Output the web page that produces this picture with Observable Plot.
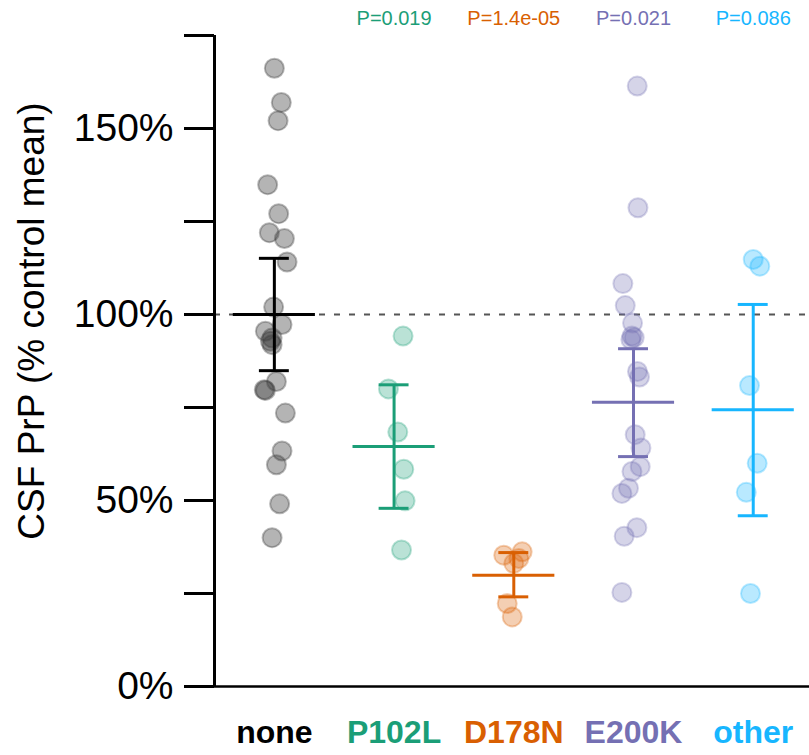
<!DOCTYPE html>
<html><head><meta charset="utf-8">
<script src="https://cdn.jsdelivr.net/npm/d3@7"></script>
<script src="https://cdn.jsdelivr.net/npm/@observablehq/plot@0.6"></script>
<style>html,body{margin:0;padding:0;background:#fff} svg{display:block}</style>
</head><body><div id="chart"></div>
<script>
// ---- data ----
const categories = ["none", "P102L", "D178N", "E200K", "other"];
const labelColors = ["#000000", "#1b9e77", "#d95f02", "#7570b3", "#17b6ff"];
const pointColors = ["#3a3a3a", "#1b9e77", "#d95f02", "#7570b3", "#17b6ff"];
const pValues = ["", "P=0.019", "P=1.4e-05", "P=0.021", "P=0.086"];

const noneValues  = [166.2, 157.0, 152.1, 134.9, 127.1, 122.0, 120.4, 114.1, 102.0, 97.3, 95.5, 93.7, 91.9, 92.8, 82.0, 79.8, 79.6, 73.5, 63.3, 59.6, 49.1, 40.0];
const noneJitter  = [0, 0.058, 0.031, -0.056, 0.036, -0.042, 0.084, 0.106, -0.006, 0.064, -0.075, -0.019, -0.019, -0.033, 0.017, -0.084, -0.075, 0.092, 0.064, 0.017, 0.044, -0.019];
const p102lValues = [94.2, 80.0, 68.4, 58.4, 49.9, 36.7];
const p102lJitter = [0.075, -0.047, 0.031, 0.081, 0.092, 0.062];
const d178nValues = [35.3, 36.2, 34.4, 33.1, 22.3, 18.7];
const d178nJitter = [-0.084, 0.070, 0.042, 0, -0.055, -0.013];
const e200kValues = [161.4, 128.7, 108.3, 102.4, 97.7, 94.2, 93.3, 93.8, 84.7, 83.2, 67.7, 64.1, 59.1, 57.8, 53.3, 51.9, 42.7, 40.4, 25.3];
const e200kJitter = [0.031, 0.037, -0.089, -0.069, -0.008, -0.013, -0.022, 0.006, 0.033, 0.050, 0.014, 0.062, 0.056, -0.013, -0.042, -0.097, 0.028, -0.078, -0.097];
const otherValues = [114.8, 113.0, 80.9, 60.0, 52.2, 25.0];
const otherJitter = [0, 0.055, -0.031, 0.033, -0.058, -0.023];

const means  = [100.0, 64.5, 29.9, 76.4, 74.4];
const ciLow  = [84.9, 47.9, 24.1, 61.8, 45.9];
const ciHigh = [115.1, 81.1, 36.0, 90.8, 102.7];

const yTicks = [0, 25, 50, 75, 100, 125, 150, 175];
const labeledTicks = [0, 50, 100, 150];
const referenceLevel = [100];
const yLabel = "CSF PrP (% control mean)";

// ---- build tables ----
const groupValues = [noneValues, p102lValues, d178nValues, e200kValues, otherValues];
const groupJitter = [noneJitter, p102lJitter, d178nJitter, e200kJitter, otherJitter];
const points = [];
groupValues.forEach((vals, i) => vals.forEach((v, k) => points.push({i, v, j: groupJitter[i][k]})));
const summary = categories.map((c, i) => ({i, c, mean: means[i], lo: ciLow[i], hi: ciHigh[i]}));

const xDomain = [-0.5, 4.47];
const meanHalf = 0.343, capHalf = 0.125;
const font = "'Liberation Sans', Arial, Helvetica, sans-serif";

const chart = Plot.plot({
  width: 809,
  height: 755,
  marginLeft: 214,
  marginRight: 0,
  marginTop: 35,
  marginBottom: 69,
  style: {fontFamily: font, background: "#fff", color: "#000"},
  x: {domain: xDomain, axis: null},
  y: {domain: [0, 175], axis: null},
  marks: [
    Plot.ruleY(referenceLevel, {stroke: "#555", strokeWidth: 2, strokeDasharray: "6,9"}),
    Plot.dot(points, {
      x: d => d.i + d.j, y: "v", r: 9.5,
      fill: d => pointColors[d.i], fillOpacity: d => d.i === 0 ? 0.38 : 0.3,
      stroke: d => pointColors[d.i], strokeOpacity: d => d.i === 0 ? 0.35 : 0.3, strokeWidth: 2
    }),
    Plot.ruleX(summary, {x: "i", y1: "lo", y2: "hi", stroke: d => labelColors[d.i], strokeWidth: 3}),
    Plot.ruleY(summary, {y: "lo", x1: d => d.i - capHalf, x2: d => d.i + capHalf, stroke: d => labelColors[d.i], strokeWidth: 3}),
    Plot.ruleY(summary, {y: "hi", x1: d => d.i - capHalf, x2: d => d.i + capHalf, stroke: d => labelColors[d.i], strokeWidth: 3}),
    Plot.ruleY(summary, {y: "mean", x1: d => d.i - meanHalf, x2: d => d.i + meanHalf, stroke: d => labelColors[d.i], strokeWidth: 3}),
    Plot.ruleY([0], {stroke: "#000", strokeWidth: 2.5}),
    Plot.ruleX([xDomain[0]], {y1: 0, y2: 175, stroke: "#000", strokeWidth: 3}),
    Plot.axisY(yTicks, {
      tickSize: 30, tickPadding: 11, strokeWidth: 3, fontSize: 39, label: null,
      tickFormat: d => labeledTicks.includes(d) ? d + "%" : ""
    }),
    Plot.text([yLabel], {frameAnchor: "left", dx: -182, dy: -40, rotate: -90, fontSize: 37,
      textAnchor: "middle", lineAnchor: "middle", fill: "#000"}),
    Plot.text(categories, {x: (d, i) => i, text: d => d, frameAnchor: "bottom", dy: 46,
      fill: (d, i) => labelColors[i], fontSize: 32, fontWeight: "bold", lineAnchor: "middle"}),
    Plot.text(pValues, {x: (d, i) => i, text: d => d, frameAnchor: "top", dy: -17,
      fill: (d, i) => labelColors[i], fontSize: 20, lineAnchor: "middle"})
  ]
});
document.getElementById("chart").appendChild(chart);
</script>
</body></html>
